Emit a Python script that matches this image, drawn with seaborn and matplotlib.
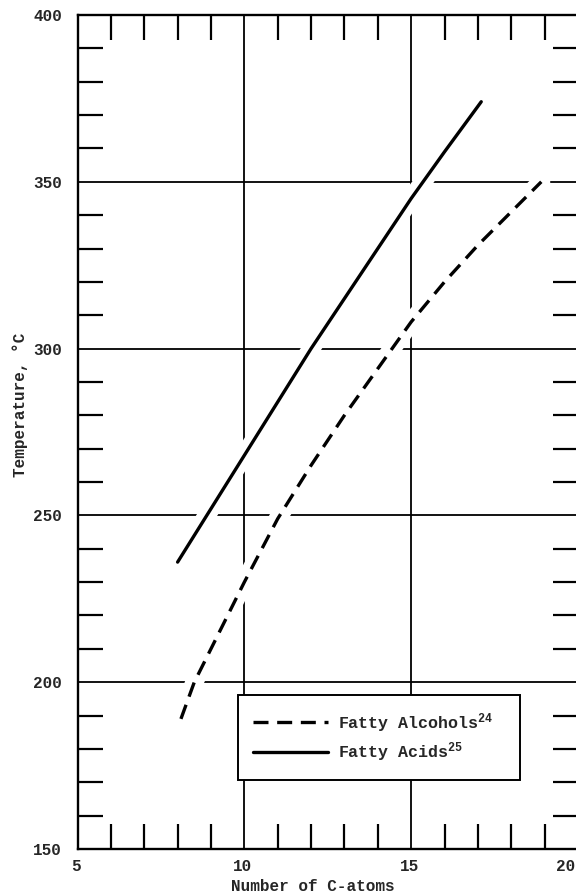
import matplotlib
matplotlib.use("Agg")
import matplotlib.pyplot as plt
import matplotlib.transforms as mtransforms
import seaborn as sns
import pandas as pd
from matplotlib.ticker import MultipleLocator

# Datos
alcohol_c = [8.1, 8.5, 9, 10, 11, 12, 13, 14, 15, 16, 17, 18, 18.9]
alcohol_t = [189, 200, 210, 230, 249, 265, 280, 294, 308, 320, 331, 341, 350]
acid_c = [8, 9, 10, 11, 12, 13, 14, 15, 16, 17.1]
acid_t = [236, 252, 268, 284, 300, 315, 330, 345, 359, 374]

alcohol_label = "Fatty Alcohols$^{24}$"
acid_label = "Fatty Acids$^{25}$"

sns.set_style("white")
plt.rcParams["font.family"] = ["Liberation Mono", "DejaVu Sans Mono"]
plt.rcParams["font.weight"] = "bold"
plt.rcParams["mathtext.default"] = "regular"

df_alc = pd.DataFrame({"c": alcohol_c, "t": alcohol_t})
df_acid = pd.DataFrame({"c": acid_c, "t": acid_t})

fig = plt.figure(figsize=(5.76, 8.96), dpi=100)
ax = fig.add_axes([77.5 / 576, 47 / 896, 500.5 / 576, 834 / 896])

# halo blanco para cortar la cuadricula alrededor de las curvas
sns.lineplot(data=df_alc, x="c", y="t", color="white", lw=13, legend=False, ax=ax, zorder=3)
sns.lineplot(data=df_acid, x="c", y="t", color="white", lw=13, legend=False, ax=ax, zorder=3)

sns.lineplot(data=df_alc, x="c", y="t", color="black", lw=2.4, ax=ax, zorder=4,
             label=alcohol_label)
ax.lines[-1].set_dashes((4.5, 2.6))
sns.lineplot(data=df_acid, x="c", y="t", color="black", lw=2.4, ax=ax, zorder=4,
             label=acid_label)

ax.set_xlim(5, 20)
ax.set_ylim(150, 400)
ax.xaxis.set_major_locator(MultipleLocator(5))
ax.xaxis.set_minor_locator(MultipleLocator(1))
ax.yaxis.set_major_locator(MultipleLocator(50))
ax.yaxis.set_minor_locator(MultipleLocator(10))

ax.grid(True, which="major", color="black", lw=1.3)
ax.set_axisbelow(True)
ax.tick_params(which="major", length=0, labelsize=11.5)
ax.tick_params(axis="y", which="major", pad=11)
ax.tick_params(axis="x", which="major", pad=7)
ax.tick_params(which="minor", direction="in", length=18, width=1.6, color="black",
               top=True, bottom=True, left=True, right=True)
for s in ax.spines.values():
    s.set_color("black")
    s.set_linewidth(1.7)

# etiquetas del eje x un poco a la izquierda; el "20" queda pegado al borde
fig.canvas.draw()
for lab in ax.get_xticklabels():
    dx = -12 if lab.get_text() == "20" else -2
    shift = mtransforms.ScaledTranslation(dx / 100, 0, fig.dpi_scale_trans)
    lab.set_transform(lab.get_transform() + shift)

ax.set_xlabel("Number of C-atoms", fontsize=11.5, fontweight="bold")
ax.set_ylabel("Temperature, °C", fontsize=11.5, fontweight="bold")
ax.xaxis.set_label_coords(0.47, -0.036)
ax.yaxis.set_label_coords(-0.099, 0.532)

leg = ax.legend(loc="lower left", bbox_to_anchor=(0.32, 0.083, 0.564, 0.102),
                mode="expand", borderaxespad=0, fontsize=12, handlelength=4.5,
                handletextpad=0.55, labelspacing=0.35, borderpad=0.95,
                fancybox=False, framealpha=1)
leg.get_frame().set_edgecolor("black")
leg.get_frame().set_linewidth(1.4)

plt.savefig("out.png", dpi=100)
plt.close()
